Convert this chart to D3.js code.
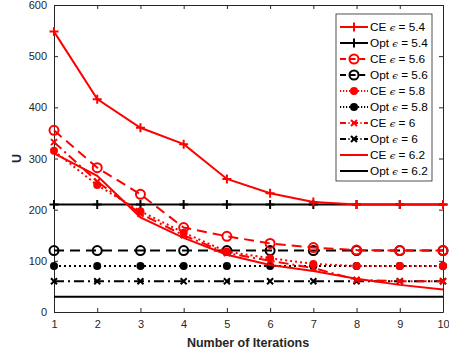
<!DOCTYPE html>
<html>
<head>
<meta charset="utf-8">
<script src="https://d3js.org/d3.v7.min.js"></script>
<style>
  body { margin: 0; background: #fff; }
  svg { font-family: "Liberation Sans", Arial, sans-serif; }
  .tick text { font-size: 11px; fill: #262626; }
  .tick line, .domain { stroke: #262626; }
</style>
</head>
<body>
<svg id="chart" width="449" height="360"></svg>
<script>
// iterations on the x axis
const iterations = [1, 2, 3, 4, 5, 6, 7, 8, 9, 10];

// CE curves (red) and Opt constants (black), one per epsilon
const ce54 = [548, 416, 360, 328, 260, 232, 215, 210, 210, 210];
const ce56 = [355, 282, 230, 165, 148, 134, 126, 121, 120, 120];
const ce58 = [315, 248, 197, 155, 118, 105, 94, 90, 90, 90];
const ce60 = [332, 255, 192, 150, 115, 100, 86, 63, 60, 60];
const ce62 = [310, 266, 185, 145, 112, 92, 80, 65, 53, 44];
const opt54 = [210, 210, 210, 210, 210, 210, 210, 210, 210, 210];
const opt56 = [120, 120, 120, 120, 120, 120, 120, 120, 120, 120];
const opt58 = [90, 90, 90, 90, 90, 90, 90, 90, 90, 90];
const opt60 = [60, 60, 60, 60, 60, 60, 60, 60, 60, 60];
const opt62 = [30, 30, 30, 30, 30, 30, 30, 30, 30, 30];

const yTicks = [0, 100, 200, 300, 400, 500, 600];

const series = [
  { name: "CE", eps: "5.4", values: ce54, color: "#ff0000", dash: null, marker: "plus" },
  { name: "Opt", eps: "5.4", values: opt54, color: "#000000", dash: null, marker: "plus" },
  { name: "CE", eps: "5.6", values: ce56, color: "#ff0000", dash: "10,6", marker: "circle" },
  { name: "Opt", eps: "5.6", values: opt56, color: "#000000", dash: "10,6", marker: "circle" },
  { name: "CE", eps: "5.8", values: ce58, color: "#ff0000", dash: "2,3", marker: "dot" },
  { name: "Opt", eps: "5.8", values: opt58, color: "#000000", dash: "2,3", marker: "dot" },
  { name: "CE", eps: "6", values: ce60, color: "#ff0000", dash: "10,4,2,4", marker: "cross" },
  { name: "Opt", eps: "6", values: opt60, color: "#000000", dash: "10,4,2,4", marker: "cross" },
  { name: "CE", eps: "6.2", values: ce62, color: "#ff0000", dash: null, marker: null },
  { name: "Opt", eps: "6.2", values: opt62, color: "#000000", dash: null, marker: null }
];

const svg = d3.select("#chart");
const mLeft = 54, mRight = 443, mTop = 5, mBottom = 312;

const x = d3.scaleLinear().domain([1, 10]).range([mLeft, mRight]);
const y = d3.scaleLinear().domain([0, 600]).range([mBottom, mTop]);

// axes, ticks point inward, box on all four sides
svg.append("g")
  .attr("transform", `translate(0,${mBottom})`)
  .call(d3.axisBottom(x).tickValues(iterations).tickFormat(d3.format("d")).tickSizeInner(-4).tickSizeOuter(0).tickPadding(8));
svg.append("g")
  .attr("transform", `translate(0,${mTop})`)
  .call(d3.axisTop(x).tickValues(iterations).tickFormat("").tickSizeInner(-4).tickSizeOuter(0));
svg.append("g")
  .attr("transform", `translate(${mLeft},0)`)
  .call(d3.axisLeft(y).tickValues(yTicks).tickSizeInner(-4).tickSizeOuter(0).tickPadding(7));
svg.append("g")
  .attr("transform", `translate(${mRight},0)`)
  .call(d3.axisRight(y).tickValues(yTicks).tickFormat("").tickSizeInner(-4).tickSizeOuter(0));

svg.append("text")
  .attr("x", 248)
  .attr("y", 347)
  .attr("text-anchor", "middle")
  .attr("font-size", 12.5)
  .attr("font-weight", "bold")
  .attr("fill", "#262626")
  .text("Number of Iterations");

svg.append("text")
  .attr("transform", `translate(21,${(mTop + mBottom) / 2}) rotate(-90)`)
  .attr("text-anchor", "middle")
  .attr("font-size", 12.5)
  .attr("font-weight", "bold")
  .attr("fill", "#262626")
  .text("U");

function drawMarker(g, type, cx, cy, color) {
  if (type === "plus") {
    g.append("path").attr("d", `M${cx - 4.5},${cy}H${cx + 4.5}M${cx},${cy - 4.5}V${cy + 4.5}`)
      .attr("stroke", color).attr("stroke-width", 2);
  } else if (type === "circle") {
    g.append("circle").attr("cx", cx).attr("cy", cy).attr("r", 4.5)
      .attr("fill", "none").attr("stroke", color).attr("stroke-width", 2);
  } else if (type === "dot") {
    g.append("circle").attr("cx", cx).attr("cy", cy).attr("r", 4)
      .attr("fill", color);
  } else if (type === "cross") {
    g.append("path").attr("d", `M${cx - 3},${cy - 3}L${cx + 3},${cy + 3}M${cx - 3},${cy + 3}L${cx + 3},${cy - 3}`)
      .attr("stroke", color).attr("stroke-width", 2);
  }
}

const line = d3.line().x((d, i) => x(iterations[i])).y(d => y(d));
const plot = svg.append("g");

// draw black (Opt) first, then red on top like the reference
const order = series.filter(s => s.name === "Opt").concat(series.filter(s => s.name === "CE"));
order.forEach(s => {
  const g = plot.append("g");
  g.append("path")
    .attr("d", line(s.values))
    .attr("fill", "none")
    .attr("stroke", s.color)
    .attr("stroke-width", 2)
    .attr("stroke-dasharray", s.dash);
  s.values.forEach((v, i) => drawMarker(g, s.marker, x(iterations[i]), y(v), s.color));
});

// legend
const lg = svg.append("g");
lg.append("rect")
  .attr("x", 336).attr("y", 14).attr("width", 96).attr("height", 167)
  .attr("fill", "#fff").attr("stroke", "#262626").attr("stroke-width", 0.8);
series.forEach((s, i) => {
  const ly = 27 + i * 16;
  lg.append("line")
    .attr("x1", 340).attr("x2", 368).attr("y1", ly).attr("y2", ly)
    .attr("stroke", s.color).attr("stroke-width", 2)
    .attr("stroke-dasharray", s.dash ? s.dash.split(",").map(d => d * 0.6).join(",") : null);
  drawMarker(lg, s.marker, 354, ly, s.color);
  const t = lg.append("text")
    .attr("x", 370).attr("y", ly + 4)
    .attr("font-size", 11.8)
    .attr("fill", "#000");
  t.append("tspan").text(s.name + " ");
  t.append("tspan").attr("font-style", "italic").attr("font-family", "DejaVu Serif, serif").attr("font-size", 10).text("\u03f5");
  t.append("tspan").text(" = " + s.eps);
});
</script>
</body>
</html>
